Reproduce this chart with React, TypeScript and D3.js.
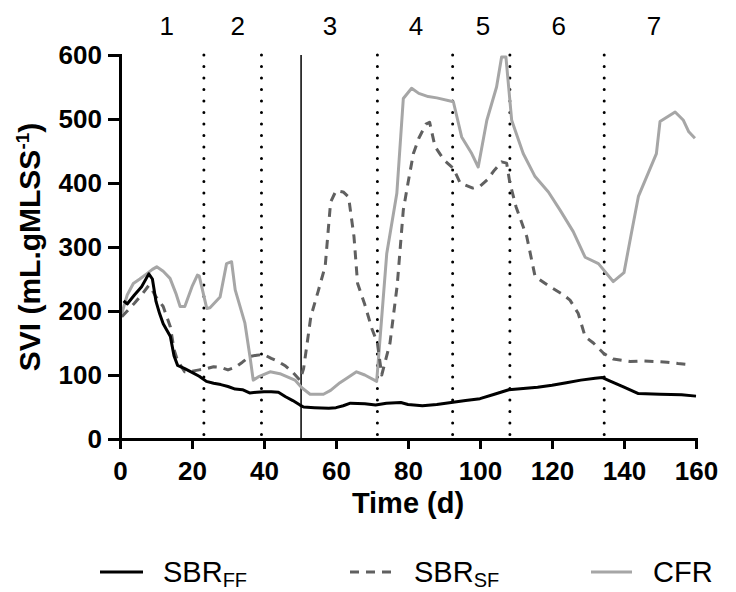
import React, { useEffect, useRef } from "react";
import * as d3 from "d3";

// SVI readings, [day, mL/g]
const sbrFF = [
  [1, 216], [2, 211], [4, 225], [6, 238], [8, 258], [9, 250], [10, 215], [11, 196],
  [12, 180], [14, 160], [15, 130], [16, 115], [18, 110], [20, 104], [22, 98], [24, 90],
  [26, 87], [28, 85], [30, 82], [32, 78], [34, 77], [36, 72], [38, 73], [40, 74],
  [42, 74], [44, 73], [46, 66], [48, 60], [50, 53], [51, 50], [54, 49], [58, 48],
  [60, 49], [62, 52], [64, 56], [68, 55], [71, 53], [74, 56], [78, 57], [80, 54],
  [84, 52], [88, 54], [92, 57], [96, 60], [100, 63], [104, 70], [108, 77], [112, 79],
  [116, 81], [120, 84], [124, 88], [128, 92], [132, 95], [134, 96], [136, 91],
  [140, 81], [144, 71], [150, 70], [156, 69], [160, 67],
];

const sbrSF = [
  [0.5, 191], [2, 200], [4, 212], [6, 225], [8, 240], [9, 232], [10, 222], [12, 207],
  [14, 175], [15, 140], [16, 122], [18, 105], [20, 106], [22, 108], [24, 110], [26, 113],
  [28, 112], [30, 108], [32, 112], [34, 120], [36, 129], [38, 131], [40, 132], [42, 126],
  [44, 121], [46, 114], [48, 104], [50, 92], [51, 110], [52, 150], [53, 191], [55, 230],
  [57, 270], [58.5, 370], [60, 388], [62, 386], [63.5, 378], [65, 316], [66, 243],
  [68, 210], [70, 172], [71.5, 150], [72.7, 100], [75, 150], [77, 240], [78.7, 358],
  [80, 400], [81.5, 446], [83, 470], [85, 492], [86, 495], [87.5, 457], [90, 436],
  [92.6, 423], [94.5, 400], [98, 392], [100, 395], [102, 405], [104, 420], [106, 433],
  [107.4, 431], [108.3, 400], [110, 363], [113, 316], [115.3, 254], [119.4, 238],
  [123, 226], [125, 217], [127.3, 196], [129.2, 160], [131.5, 150], [134.3, 134],
  [137, 125], [141.7, 121], [145, 122], [149, 121], [152, 120], [155, 118], [158.8, 116],
];

const cfr = [
  [0.5, 196], [2, 225], [3.7, 243], [5.5, 250], [7.4, 258], [9, 265], [10.2, 269],
  [12, 262], [13.9, 251], [15.5, 228], [16.7, 207], [18, 207], [20, 238], [21.5, 256],
  [22, 255], [24.1, 204], [25, 205], [27.8, 222], [29.6, 274], [31, 277], [32, 233],
  [34.7, 181], [36.1, 129], [37, 92], [38.4, 97], [41.7, 105], [44.4, 102], [46.5, 97],
  [48.6, 92], [50.5, 80], [52.8, 70], [56.5, 70], [58.5, 76], [61.1, 88], [63, 95],
  [65.7, 105], [68, 100], [71.3, 90], [74.1, 290], [76.9, 384], [78.7, 532], [81, 548],
  [83, 540], [85.6, 535], [88, 533], [92.6, 527], [94.9, 472], [97.7, 446], [99.5, 425],
  [101.9, 498], [104.6, 550], [106, 597], [107.2, 597], [108.8, 498], [112, 446],
  [115.3, 410], [119, 386], [122.2, 358], [125.9, 324], [129.2, 284], [132.9, 274],
  [137, 246], [140, 260], [142, 320], [144, 379], [149, 446], [150, 496], [154.2, 511],
  [156.5, 498], [158, 480], [159.7, 470],
];

// phase boundaries and labels
const phaseBreaks = [23.3, 39.3, 71.5, 92.4, 108.3, 134.5];
const feedChange = 50.3;
const phaseLabels = ["1", "2", "3", "4", "5", "6", "7"];
const phaseLabelDays = [13, 32.7, 58.3, 82.2, 100.8, 121.9, 148.3];

const xTicks = [0, 20, 40, 60, 80, 100, 120, 140, 160];
const yTicks = [0, 100, 200, 300, 400, 500, 600];

const FONT = "'Liberation Sans', Arial, sans-serif";

const App = () => {
  const ref = useRef(null);

  useEffect(() => {
    const svg = d3.select(ref.current);
    svg.selectAll("*").remove();

    const x = d3.scaleLinear().domain([0, 160]).range([120, 696]);
    const y = d3.scaleLinear().domain([0, 600]).range([439, 55]);

    // phase separators
    svg
      .append("g")
      .selectAll("line")
      .data(phaseBreaks)
      .join("line")
      .attr("x1", (d) => x(d))
      .attr("x2", (d) => x(d))
      .attr("y1", y(600))
      .attr("y2", y(0))
      .attr("stroke", "#000")
      .attr("stroke-width", 3)
      .attr("stroke-linecap", "round")
      .attr("stroke-dasharray", "0 11.5");

    svg
      .append("line")
      .attr("x1", x(feedChange))
      .attr("x2", x(feedChange))
      .attr("y1", y(600))
      .attr("y2", y(0))
      .attr("stroke", "#000")
      .attr("stroke-width", 1.5);

    svg
      .append("g")
      .selectAll("text")
      .data(phaseLabels)
      .join("text")
      .attr("x", (d, i) => x(phaseLabelDays[i]))
      .attr("y", 35)
      .attr("text-anchor", "middle")
      .attr("font-family", FONT)
      .attr("font-size", 26)
      .text((d) => d);

    const line = d3
      .line()
      .x((d) => x(d[0]))
      .y((d) => y(d[1]));

    const series = [
      { data: cfr, color: "#a6a6a6", dash: null },
      { data: sbrSF, color: "#606060", dash: "9 7" },
      { data: sbrFF, color: "#000", dash: null },
    ];

    series.forEach((s) => {
      svg
        .append("path")
        .datum(s.data)
        .attr("d", line)
        .attr("fill", "none")
        .attr("stroke", s.color)
        .attr("stroke-width", 3)
        .attr("stroke-linejoin", "round")
        .attr("stroke-dasharray", s.dash);
    });

    // axes
    const xAxis = svg
      .append("g")
      .attr("transform", `translate(0,${y(0)})`)
      .call(d3.axisBottom(x).tickValues(xTicks).tickSize(10).tickSizeOuter(0).tickPadding(13));

    const yAxis = svg
      .append("g")
      .attr("transform", `translate(${x(0)},0)`)
      .call(d3.axisLeft(y).tickValues(yTicks).tickSize(12).tickSizeOuter(0).tickPadding(6));

    [xAxis, yAxis].forEach((g) => {
      g.select(".domain").attr("stroke-width", 3).attr("stroke-linecap", "square");
      g.selectAll(".tick line").attr("stroke-width", 3);
      g.selectAll(".tick text")
        .attr("font-family", FONT)
        .attr("font-size", 26)
        .attr("font-weight", "bold")
        .attr("fill", "#000");
    });

    svg
      .append("text")
      .attr("x", (x(0) + x(160)) / 2)
      .attr("y", 513)
      .attr("text-anchor", "middle")
      .attr("font-family", FONT)
      .attr("font-size", 29)
      .attr("font-weight", "bold")
      .text("Time (d)");

    const yTitle = svg
      .append("text")
      .attr("transform", `translate(40,${(y(0) + y(600)) / 2}) rotate(-90)`)
      .attr("text-anchor", "middle")
      .attr("font-family", FONT)
      .attr("font-size", 30)
      .attr("font-weight", "bold");
    yTitle.append("tspan").text("SVI (mL.gMLSS");
    yTitle.append("tspan").attr("font-size", 19).attr("dy", -11).text("-1");
    yTitle.append("tspan").attr("dy", 11).text(")");

    // legend
    const legend = [
      { name: "SBR", sub: "FF", color: "#000", dash: null, x0: 100, x1: 143, tx: 163 },
      { name: "SBR", sub: "SF", color: "#606060", dash: "9 7", x0: 350, x1: 393, tx: 414 },
      { name: "CFR", sub: "", color: "#a6a6a6", dash: null, x0: 591, x1: 632, tx: 653 },
    ];

    const items = svg.append("g").selectAll("g").data(legend).join("g");
    items
      .append("line")
      .attr("x1", (d) => d.x0)
      .attr("x2", (d) => d.x1)
      .attr("y1", 572)
      .attr("y2", 572)
      .attr("stroke", (d) => d.color)
      .attr("stroke-width", 3)
      .attr("stroke-dasharray", (d) => d.dash);
    const labels = items
      .append("text")
      .attr("x", (d) => d.tx)
      .attr("y", 582)
      .attr("font-family", FONT)
      .attr("font-size", 29);
    labels.append("tspan").text((d) => d.name);
    labels
      .append("tspan")
      .attr("font-size", 20)
      .attr("dy", 5)
      .text((d) => d.sub);
  }, []);

  return (
    <svg
      ref={ref}
      width={736}
      height={592}
      style={{ position: "absolute", left: 0, top: 0, background: "#fff" }}
    />
  );
};

export default App;
